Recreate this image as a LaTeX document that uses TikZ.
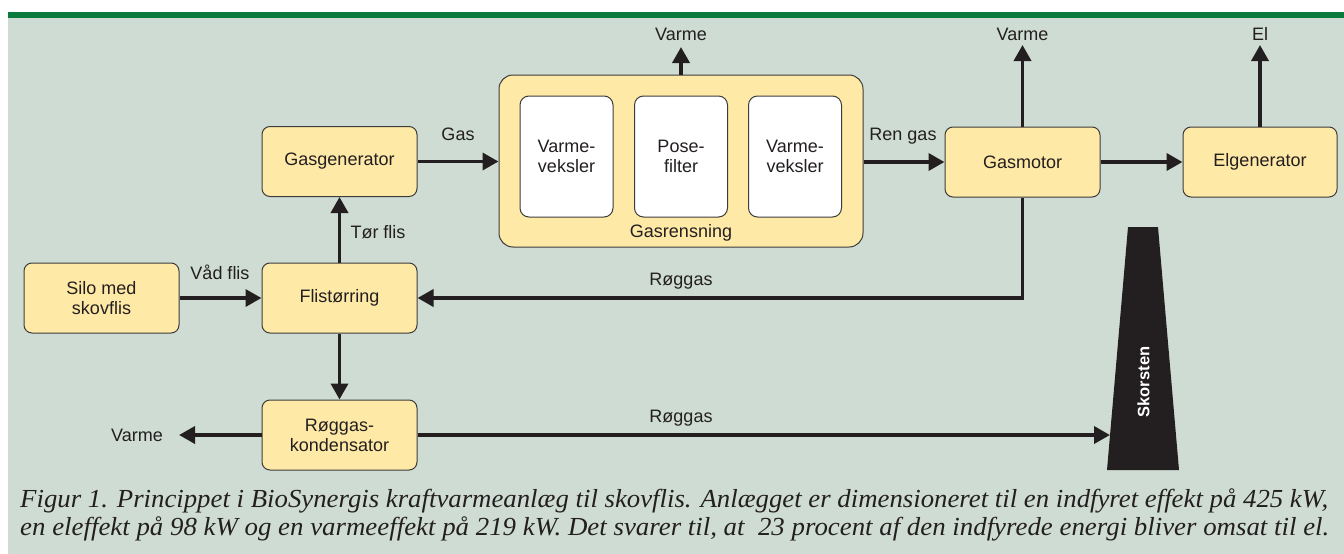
\documentclass[tikz,border=0pt]{standalone}
\usepackage{fontspec}
\setmainfont{Liberation Sans}
\newfontfamily\capfont{Liberation Serif}
\usetikzlibrary{arrows.meta}
\definecolor{bgc}{RGB}{207,220,211}
\definecolor{barc}{RGB}{11,123,59}
\definecolor{boxc}{RGB}{255,233,166}
\definecolor{inkc}{RGB}{35,31,32}
\definecolor{edgec}{RGB}{60,60,60}
\tikzset{
  blk/.style={draw=edgec, line width=1pt, fill=boxc, rounded corners=8pt,
    minimum width=155pt, minimum height=70pt, align=center, text=inkc,
    font=\fontsize{18}{20}\selectfont, inner sep=0pt},
  inner/.style={draw=edgec, line width=1pt, fill=white, rounded corners=9pt,
    minimum width=93pt, minimum height=121pt, align=center, text=inkc,
    font=\fontsize{18}{20}\selectfont, inner sep=0pt},
  lbl/.style={text=inkc, font=\fontsize{18}{20}\selectfont, inner sep=0pt},
  arr/.style={draw=inkc, line width=3.6pt, -{Triangle[length=16pt,width=17pt]}},
}
\begin{document}
\begin{tikzpicture}[x=1pt,y=-1pt]
\useasboundingbox (0,0) rectangle (1344,554);
\fill[white] (0,0) rectangle (1344,554);
\fill[bgc] (8,17) rectangle (1344,554);
\fill[barc] (8,12) rectangle (1344,17.5);

% boxes
\node[blk] (silo) at (101.5,298) {Silo med\\skovflis};
\node[blk] (fl) at (339.5,298) {Flistørring};
\node[blk] (gg) at (339.5,161.5) {Gasgenerator};
\node[blk] (rk) at (339.5,435) {Røggas-\\kondensator};
\node[blk] (gm) at (1022.5,162) {Gasmotor};
\node[blk, minimum width=154pt] (eg) at (1260,162) {Elgenerator};

\node[blk, rounded corners=14pt, minimum width=364pt, minimum height=172pt] (gr) at (681,161) {};
\node[inner] (v1) at (566.5,156.5) {Varme-\\veksler};
\node[inner] (pf) at (681,156.5) {Pose-\\filter};
\node[inner] (v2) at (795,156.5) {Varme-\\veksler};
\node[lbl] (grl) at (681,233) {Gasrensning};

% chimney
\fill[inkc] (1128,227) -- (1158,227) -- (1179,470) -- (1107,470) -- cycle;
\node[text=white, font=\bfseries\fontsize{16.5}{18}\selectfont, rotate=90, inner sep=0pt] (sk) at (1143.5,382) {Skorsten};
\coordinate (skin) at (1110,435);

% free ends
\coordinate (vtop1) at (681,47);
\coordinate (vtop2) at (1022.5,45);
\coordinate (eltop) at (1260,45);
\coordinate (vleft) at (179,435);

% labels
\node[lbl] at (681,34) {Varme};
\node[lbl] at (1022.5,34) {Varme};
\node[lbl] at (1260,34) {El};
\node[lbl] at (137,435) {Varme};
\node[lbl] at (458,134) {Gas};
\node[lbl] at (903,136) {Ren gas};
\node[lbl] at (378,232) {Tør flis};
\node[lbl] at (220,272) {Våd flis};
\node[lbl] at (681,281) {Røggas};
\node[lbl] at (681,418) {Røggas};

% connectors
\draw[arr] (silo.east) -- (fl.west);
\draw[arr] (fl.north) -- (gg.south);
\draw[arr] (gg.east) -- (gr.west |- gg.east);
\draw[arr] (gr.east |- gm.west) -- (gm.west);
\draw[arr] (gm.east) -- (eg.west);
\draw[arr] (gr.north) -- (vtop1);
\draw[arr] (gm.north) -- (vtop2);
\draw[arr] (eg.north) -- (eltop);
\draw[arr, rounded corners=0pt] (gm.south) |- (fl.east);
\draw[arr] (fl.south) -- (rk.north);
\draw[arr] (rk.west) -- (vleft);
\draw[arr] (rk.east) -- (skin);

% caption
\node[anchor=base west, inner sep=0pt, text=inkc] (cap1) at (20,507)
  {\resizebox{1308pt}{\height}{\capfont\itshape\fontsize{26}{30}\selectfont Figur 1. Princippet i BioSynergis kraftvarmeanlæg til skovflis. Anlægget er dimensioneret til en indfyret effekt på 425 kW,}};
\node[anchor=base west, inner sep=0pt, text=inkc] (cap2) at (20,535)
  {\resizebox{1309pt}{\height}{\capfont\itshape\fontsize{26}{30}\selectfont en eleffekt på 98 kW og en varmeeffekt på 219 kW. Det svarer til, at\ \ 23 procent af den indfyrede energi bliver omsat til el.}};
\end{tikzpicture}
\end{document}
